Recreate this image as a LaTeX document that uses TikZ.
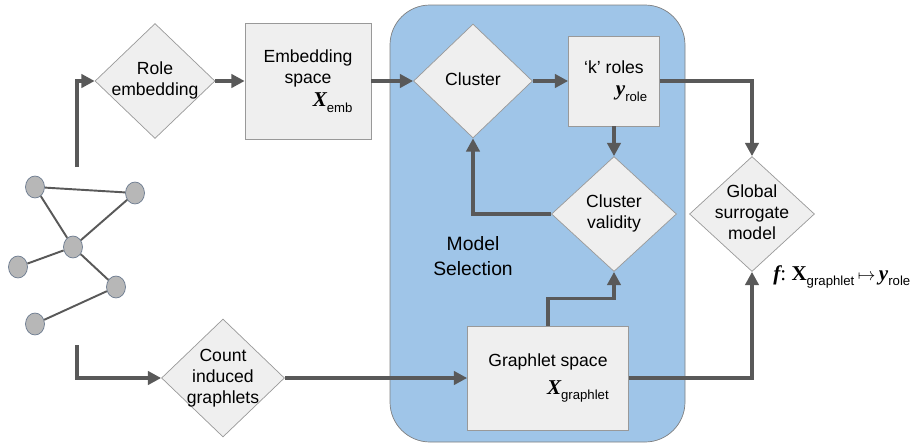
\documentclass[tikz,border=0pt]{standalone}
\usepackage{fontspec}
\setmainfont{Liberation Sans}
\newfontfamily\symfont{Liberation Serif}
\usetikzlibrary{shapes.geometric,arrows.meta}
\definecolor{boxfill}{HTML}{EFEFEF}
\definecolor{boxdraw}{HTML}{999999}
\definecolor{flowline}{HTML}{595959}
\definecolor{selblue}{HTML}{9FC5E8}
\definecolor{seldraw}{HTML}{7F7F7F}
\definecolor{vertfill}{HTML}{B7B7B7}
\definecolor{vertdraw}{HTML}{6B7A8F}
% text of a diamond, kept out of the shape size
\newcommand{\dlabel}[1]{\makebox[0pt]{\raisebox{-0.25em}[0pt][0pt]{\begin{tabular}{@{}c@{}}#1\end{tabular}}}}
\newcommand{\bivar}[2]{{\symfont\bfseries\itshape\fontsize{12}{12}\selectfont #1}\raisebox{-0.6ex}{\fontsize{7.5}{8}\selectfont #2}}
\newcommand{\bvar}[2]{{\symfont\bfseries\fontsize{12}{12}\selectfont #1}\raisebox{-0.6ex}{\fontsize{7.5}{8}\selectfont #2}}
\begin{document}
\begin{tikzpicture}[x=0.02cm,y=-0.02cm,
    font=\fontsize{10}{12}\selectfont,
    decision/.style={diamond,draw=boxdraw,fill=boxfill,inner sep=0pt,
      minimum width=2.4cm,minimum height=2.3cm},
    space/.style={rectangle,draw=boxdraw,fill=boxfill,align=center,inner sep=0pt},
    vertex/.style={ellipse,draw=vertdraw,fill=vertfill,inner sep=0pt,
      minimum width=0.38cm,minimum height=0.44cm},
    flow/.style={draw=flowline,line width=2pt,-{Triangle[length=7.5pt,width=7.5pt]}},
    link/.style={draw=flowline,line width=1.1pt}]
  \useasboundingbox (0,0) rectangle (920,443);

  % model selection region
  \draw[draw=seldraw,fill=selblue,rounded corners=0.8cm] (390,5) rectangle (685,442);
  \node[font=\fontsize{11}{14}\selectfont,align=center] (modeltxt) at (473,256) {Model\\Selection};

  % input graph
  \node[vertex] (v1) at (35,187) {};
  \node[vertex] (v2) at (135,193) {};
  \node[vertex] (v3) at (73,247) {};
  \node[vertex] (v4) at (18,267) {};
  \node[vertex] (v5) at (116,287) {};
  \node[vertex] (v6) at (35,324) {};
  \draw[link] (v1) -- (v2);
  \draw[link] (v1) -- (v3);
  \draw[link] (v3) -- (v2);
  \draw[link] (v3) -- (v4);
  \draw[link] (v3) -- (v5);
  \draw[link] (v5) -- (v6);
  \coordinate (gtop) at (77,167);
  \coordinate (gbot) at (77,345);

  % upper row
  \node[decision] (role) at (155,81) {\dlabel{Role\\embedding}};
  \node[space,minimum width=2.52cm,minimum height=2.32cm] (emb) at (308,81)
    {Embedding\\space\\[1pt]\hspace*{28pt}\bivar{X}{emb}};
  \node[decision,minimum width=2.38cm,minimum height=2.28cm] (cluster) at (473,81) {\dlabel{Cluster}};
  \node[space,minimum width=1.82cm,minimum height=1.8cm] (kroles) at (614,81)
    {‘k’ roles\\[1pt]\hspace*{20pt}\bivar{y}{role}};
  \node[decision,minimum width=2.5cm] (valid) at (614,214) {\dlabel{Cluster\\validity}};
  \node[decision,minimum width=2.5cm] (glob) at (752,214) {\dlabel{Global\\surrogate\\model}};
  \node[anchor=base west,inner sep=0pt] (fmap) at (773,280)
    {{\symfont\bfseries\itshape\fontsize{12}{12}\selectfont f}{\symfont\fontsize{12}{12}\selectfont :}\hspace{3pt}\bvar{X}{graphlet}\hspace{2pt}$\mapsto$\hspace{2pt}\bivar{y}{role}};

  % lower row
  \node[decision,minimum width=2.46cm,minimum height=2.36cm] (count) at (223,378) {\dlabel{Count\\induced\\graphlets}};
  \node[space,minimum width=3.22cm,minimum height=2.08cm] (graphlet) at (548,378)
    {Graphlet space\\[4pt]\hspace*{34pt}\bivar{X}{graphlet}};

  % connectors
  \draw[flow] (gtop) |- (role.west);
  \draw[flow] (role.east) -- (emb.west);
  \draw[flow] (emb.east) -- (cluster.west);
  \draw[flow] (cluster.east) -- (kroles.west);
  \draw[flow] (kroles.south) -- (valid.north);
  \draw[flow] (valid.west) -| (cluster.south);
  \draw[flow] (kroles.east) -| (glob.north);
  \draw[flow] (gbot) |- (count.west);
  \draw[flow] (count.east) -- (graphlet.west);
  \draw[flow] (graphlet.north) -- ++(0,-27) -| (valid.south);
  \draw[flow] (graphlet.east) -| (glob.south);
\end{tikzpicture}
\end{document}
